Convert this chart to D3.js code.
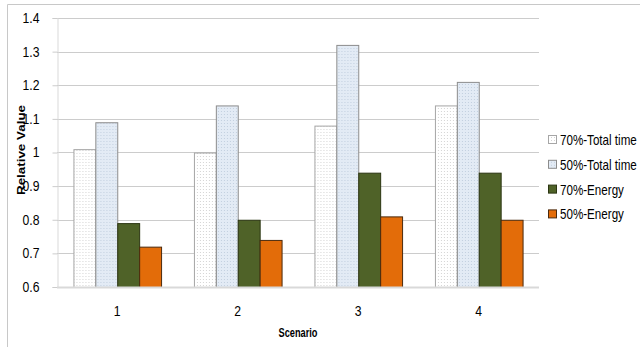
<!DOCTYPE html>
<html>
<head>
<meta charset="utf-8">
<script src="https://cdn.jsdelivr.net/npm/d3@7"></script>
<style>
  html, body { margin: 0; padding: 0; background: #fff; }
  svg { display: block; }
  text { font-family: "Liberation Sans", Arial, sans-serif; fill: #000; }
</style>
</head>
<body>
<svg id="chart" width="640" height="347"></svg>
<script>
// Scenario categories and per-series relative values
const scenarios = ["1", "2", "3", "4"];
const seriesNames = ["70%-Total time", "50%-Total time", "70%-Energy", "50%-Energy"];
const total70 = [1.01, 1.00, 1.08, 1.14];
const total50 = [1.09, 1.14, 1.32, 1.21];
const energy70 = [0.79, 0.80, 0.94, 0.94];
const energy50 = [0.72, 0.74, 0.81, 0.80];
const yTicks = [0.6, 0.7, 0.8, 0.9, 1.0, 1.1, 1.2, 1.3, 1.4];

const seriesValues = [total70, total50, energy70, energy50];
const fills = ["url(#dotsWhite)", "url(#dotsBlue)", "#4f6228", "#e36c09"];
const strokes = ["#a6a6a6", "#8c8c8c", "#2b3512", "#4a2a0e"];

const svg = d3.select("#chart");
const W = 640, H = 347;
const plot = { left: 57, right: 539, top: 18, bottom: 287 };

// Condense a text element horizontally around its anchor x
function squeeze(k) {
  return sel => sel.each(function () {
    const t = d3.select(this);
    const ax = +(t.attr("x") || 0);
    t.attr("transform", `translate(${ax},0) scale(${k},1) translate(${-ax},0)`);
  });
}

// Dotted fills for the total-time bars
const defs = svg.append("defs");
function dots(id, bg, dot) {
  const p = defs.append("pattern").attr("id", id)
    .attr("width", 3).attr("height", 3).attr("patternUnits", "userSpaceOnUse");
  p.append("rect").attr("width", 3).attr("height", 3).attr("fill", bg);
  p.append("rect").attr("x", 0).attr("y", 0).attr("width", 1).attr("height", 1).attr("fill", dot);
}
dots("dotsWhite", "#ffffff", "#d4d4d4");
dots("dotsBlue", "#e3ebf5", "#c2cfdf");

// Chart frame
svg.append("path")
  .attr("d", `M7.5,${H} V4.5 H${W}`)
  .attr("fill", "none").attr("stroke", "#c8c8c8").attr("stroke-width", 1);

const y = d3.scaleLinear().domain([0.6, 1.4]).range([plot.bottom, plot.top]);
const x0 = d3.scaleBand().domain(scenarios).range([plot.left, plot.right]).paddingInner(0).paddingOuter(0);
const groupW = x0.bandwidth() * 4 / 5.5;
const x1 = d3.scaleBand().domain(d3.range(4)).range([0, groupW]).padding(0);

// Horizontal gridlines
svg.append("g").selectAll("line").data(yTicks.slice(1)).join("line")
  .attr("x1", plot.left).attr("x2", plot.right)
  .attr("y1", d => Math.round(y(d)) + 0.5).attr("y2", d => Math.round(y(d)) + 0.5)
  .attr("stroke", "#cccccc").attr("stroke-width", 1);

// Y axis
const yAxis = svg.append("g").attr("transform", `translate(${plot.left + 0.5},0)`)
  .call(d3.axisLeft(y).tickValues(yTicks).tickSize(5).tickPadding(13)
    .tickFormat(d => d3.format("")(+d.toFixed(1))));
yAxis.select(".domain").attr("stroke", "#d9d9d9");
yAxis.selectAll(".tick line").attr("stroke", "#cccccc");
yAxis.selectAll(".tick text").attr("font-size", 14)
  .style("font-family", "'Liberation Sans', Arial, sans-serif").call(squeeze(0.87));

// Bars
const groups = svg.append("g").selectAll("g").data(scenarios).join("g")
  .attr("transform", d => `translate(${x0(d) + (x0.bandwidth() - groupW) / 2},0)`);
groups.selectAll("rect").data((d, i) => seriesValues.map((s, k) => ({ k, v: s[i] }))).join("rect")
  .attr("x", d => x1(d.k) + 0.5)
  .attr("width", x1.bandwidth())
  .attr("y", d => y(d.v) + 0.5)
  .attr("height", d => y(0.6) - y(d.v))
  .attr("fill", d => fills[d.k])
  .attr("stroke", d => strokes[d.k])
  .attr("stroke-width", 1);

// Baseline
svg.append("line")
  .attr("x1", plot.left).attr("x2", plot.right)
  .attr("y1", plot.bottom + 0.5).attr("y2", plot.bottom + 0.5)
  .attr("stroke", "#d9d9d9").attr("stroke-width", 2);

// X axis labels
const xAxis = svg.append("g").attr("transform", `translate(0,${plot.bottom})`)
  .call(d3.axisBottom(x0).tickSize(0).tickPadding(19));
xAxis.select(".domain").remove();
xAxis.selectAll(".tick text").attr("font-size", 14)
  .style("font-family", "'Liberation Sans', Arial, sans-serif").call(squeeze(0.87));

// Axis titles
svg.append("text").attr("x", (plot.left + plot.right) / 2).attr("y", 337)
  .attr("text-anchor", "middle").attr("font-size", 12.5).attr("font-weight", "bold")
  .text("Scenario").call(squeeze(0.74));
svg.append("text")
  .attr("transform", `translate(24.5,150) scale(0.8,1) rotate(-90)`)
  .attr("text-anchor", "middle").attr("font-size", 13.4).attr("font-weight", "bold")
  .text("Relative Value");

// Legend
const legend = svg.append("g").selectAll("g").data(seriesNames).join("g")
  .attr("transform", (d, i) => `translate(548,${140 + i * 24.8})`);
legend.append("rect").attr("x", 0.5).attr("y", -4.5).attr("width", 8).attr("height", 8)
  .attr("fill", (d, i) => fills[i]).attr("stroke", (d, i) => strokes[i]);
legend.append("text").attr("x", 12).attr("y", 0).attr("dy", "0.35em")
  .attr("font-size", 14).text(d => d).call(squeeze(0.83));
</script>
</body>
</html>
